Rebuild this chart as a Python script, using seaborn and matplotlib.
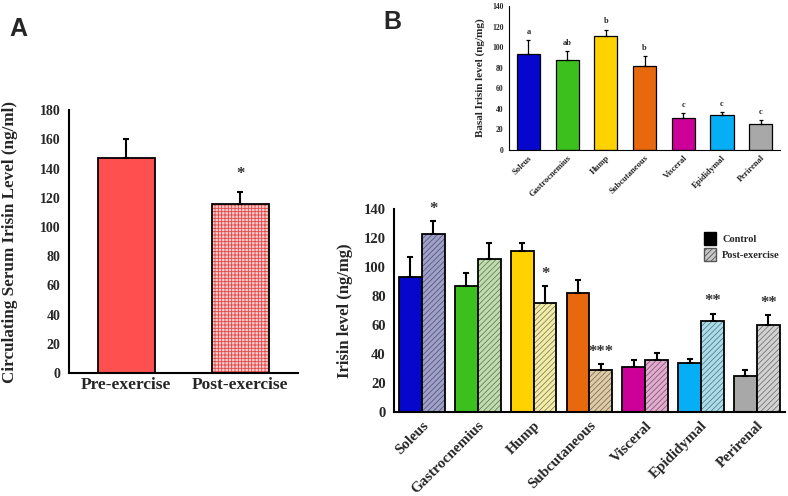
import numpy as np
import pandas as pd
import seaborn as sns
import matplotlib.pyplot as plt
from matplotlib.patches import Patch, Rectangle
from matplotlib.colors import to_rgb

# ---- data ----
serum_groups = ["Pre-exercise", "Post-exercise"]
serum_mean = [147, 116]
serum_err = [13, 8]

tissues = ["Soleus", "Gastrocnemius", "Hump", "Subcutaneous",
           "Visceral", "Epididymal", "Perirenal"]
control_mean = [93, 87, 111, 82, 31, 34, 25]
control_err = [14, 9, 6, 9, 5, 3, 4]
post_mean = [123, 106, 75, 29, 36, 63, 60]
post_err = [9, 11, 12, 4, 5, 5, 7]
basal_letters = ["a", "ab", "b", "b", "c", "c", "c"]
post_stars = ["*", "", "*", "***", "", "**", "**"]

control_colors = ["#0606CC", "#3CC01E", "#FFD200", "#E8680E",
                  "#CC0099", "#05AEF5", "#A8A8A8"]
post_colors = ["#A0A0CC", "#C0DEAC", "#F4EDA8", "#DFCCA6",
               "#E4AAD0", "#AADEEC", "#D2D2D2"]

sns.set_style("white")
plt.rcParams['font.family'] = ['Liberation Serif', 'DejaVu Serif']
plt.rcParams['font.weight'] = 'bold'
plt.rcParams['hatch.linewidth'] = 0.6

fig = plt.figure(figsize=(7.88, 4.96), dpi=100)


def darker(c, f=0.6):
    r, g, b = to_rgb(c)
    return (r * f, g * f, b * f)


def style_axis(ax, n, lw, ticksize, labelsize, rot, pad=3):
    for s in ["top", "right"]:
        ax.spines[s].set_visible(False)
    for s in ["left", "bottom"]:
        ax.spines[s].set_linewidth(lw)
        ax.spines[s].set_color("black")
    ax.set_xlim(-0.5, n - 0.5)
    ax.set_xticks(np.arange(-0.5, n, 1.0), minor=True)
    ax.tick_params(axis="x", which="major", length=0, pad=pad)
    ax.tick_params(axis="x", which="minor", length=4, width=lw, direction="out")
    ax.tick_params(axis="y", length=4, width=lw, direction="out",
                   labelsize=ticksize, pad=2)
    for t in ax.get_yticklabels():
        t.set_fontweight("bold")
    for t in ax.get_xticklabels():
        t.set_fontsize(labelsize)
        t.set_fontweight("bold")
        if rot:
            t.set_rotation(45)
            t.set_ha("right")
            t.set_rotation_mode("anchor")


def add_errors(ax, patches, errs, cap, lw):
    xs = [p.get_x() + p.get_width() / 2 for p in patches]
    hs = [p.get_height() for p in patches]
    ax.errorbar(xs, hs, yerr=[np.zeros(len(errs)), errs], fmt="none",
                ecolor="black", elinewidth=lw, capsize=cap, capthick=lw, zorder=1)


def hatch_overlay(ax, p, face, hatch, hcolor, lw):
    p.set_facecolor(face)
    p.set_edgecolor(hcolor)
    p.set_hatch(hatch)
    p.set_linewidth(0)
    ax.add_patch(Rectangle((p.get_x(), p.get_y()), p.get_width(), p.get_height(),
                           fill=False, edgecolor="black", linewidth=lw, zorder=3))


# ---------------- Panel A ----------------
axA = fig.add_axes([0.0876, 0.248, 0.29, 0.530])
dfA = pd.DataFrame({"group": serum_groups, "value": serum_mean})
sns.barplot(data=dfA, x="group", y="value", ax=axA, width=0.5, saturation=1,
            color="#FF5050", edgecolor="black", linewidth=1.3, errorbar=None)
pA = list(axA.patches)
hatch_overlay(axA, pA[1], "#F8CACA", "+++++", "#E04848", 1.3)
add_errors(axA, pA, serum_err, 2, 1.5)
axA.set_ylim(0, 180)
axA.set_yticks(range(0, 181, 20))
axA.set_xlabel("")
axA.set_ylabel("Circulating Serum Irisin Level (ng/ml)", fontsize=12.3,
               fontweight="bold", labelpad=16)
style_axis(axA, 2, 1.5, 10, 12.5, False)
axA.text(1, serum_mean[1] + serum_err[1] + 7, "*", ha="center", va="bottom",
         fontsize=12, fontweight="bold", color="#333333")
fig.text(0.012, 0.965, "A", fontsize=18, fontweight="bold",
         family=["Liberation Sans", "DejaVu Sans"], va="top")

# ---------------- Panel B top ----------------
axT = fig.add_axes([0.646, 0.698, 0.344, 0.290])
dfT = pd.DataFrame({"tissue": tissues, "value": control_mean})
sns.barplot(data=dfT, x="tissue", y="value", hue="tissue", palette=control_colors,
            ax=axT, width=0.6, saturation=1, edgecolor="black", linewidth=0.9,
            legend=False, errorbar=None)
pT = list(axT.patches)
add_errors(axT, pT, control_err, 1.2, 0.9)
for p, e, lab in zip(pT, control_err, basal_letters):
    axT.text(p.get_x() + p.get_width() / 2, p.get_height() + e + 4, lab,
             ha="center", va="bottom", fontsize=6, fontweight="bold")
axT.set_ylim(0, 140)
axT.set_yticks(range(0, 141, 20))
axT.set_xlabel("")
axT.set_ylabel("Basal Irisin level (ng/mg)", fontsize=8, fontweight="bold",
               labelpad=5)
style_axis(axT, 7, 0.8, 5.5, 6.2, True)
axT.tick_params(axis="x", which="minor", length=2)
axT.tick_params(axis="y", length=2)
fig.text(0.486, 0.98, "B", fontsize=18, fontweight="bold",
         family=["Liberation Sans", "DejaVu Sans"], va="top")

# ---------------- Panel B bottom ----------------
axB = fig.add_axes([0.5, 0.169, 0.496, 0.409])
dfB = pd.DataFrame({
    "tissue": tissues * 2,
    "cond": ["Control"] * 7 + ["Post-exercise"] * 7,
    "value": control_mean + post_mean,
})
sns.barplot(data=dfB, x="tissue", y="value", hue="cond", ax=axB, width=0.82,
            gap=0, saturation=1, palette=["black", "grey"], edgecolor="black",
            linewidth=1.3, legend=False, errorbar=None)
pB = list(axB.patches)
ctrl_p, post_p = pB[:7], pB[7:]
for p, c in zip(ctrl_p, control_colors):
    p.set_facecolor(c)
for p, c in zip(post_p, post_colors):
    hatch_overlay(axB, p, c, "//////", darker(c, 0.55), 1.3)
add_errors(axB, ctrl_p, control_err, 2.5, 1.5)
add_errors(axB, post_p, post_err, 2.5, 1.5)
for p, e, s in zip(post_p, post_err, post_stars):
    if s:
        axB.text(p.get_x() + p.get_width() / 2, p.get_height() + e + 3, s,
                 ha="center", va="bottom", fontsize=12, fontweight="bold",
                 color="#333333")
axB.set_ylim(0, 140)
axB.set_yticks(range(0, 141, 20))
axB.set_xlabel("")
axB.set_ylabel("Irisin level (ng/mg)", fontsize=12, fontweight="bold", labelpad=8)
style_axis(axB, 7, 1.5, 10.5, 10.8, True, pad=5)

handles = [Patch(facecolor="black", edgecolor="black", label="Control"),
           Patch(facecolor="#C8C8C8", edgecolor="#555555", hatch="//////",
                 label="Post-exercise")]
fig.legend(handles=handles, loc="upper left", bbox_to_anchor=(0.882, 0.552),
           frameon=False, prop={"weight": "bold", "size": 7.5},
           handlelength=1.1, handleheight=1.6, handletextpad=0.6,
           labelspacing=0.25)

fig.savefig("out.png", dpi=100)
